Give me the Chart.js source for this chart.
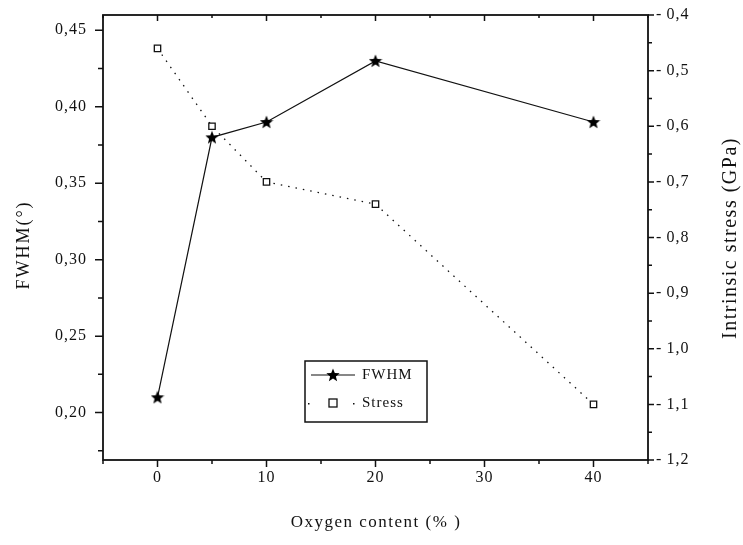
<!DOCTYPE html>
<html>
<head>
<meta charset="utf-8">
<script src="https://cdn.jsdelivr.net/npm/chart.js@4.4.0/dist/chart.umd.min.js"></script>
<style>
  html, body { margin: 0; padding: 0; background: #fff; }
  #wrap { width: 743px; height: 545px; }
</style>
</head>
<body>
<div id="wrap"><canvas id="chart" width="743" height="545"></canvas></div>
<script>
// ------------------------------------------
// Data
// ------------------------------------------
const oxygen = [0, 5, 10, 20, 40];
const fwhm = [0.21, 0.38, 0.39, 0.43, 0.39];
const stress = [-0.46, -0.60, -0.70, -0.74, -1.10];

const xTicks = [0, 10, 20, 30, 40];
const fwhmTicks = [0.20, 0.25, 0.30, 0.35, 0.40, 0.45];
const stressTicks = [-0.4, -0.5, -0.6, -0.7, -0.8, -0.9, -1.0, -1.1, -1.2];

const FONT = "'Liberation Serif', 'DejaVu Serif', serif";
const INK = "#111";

// filled star used as the FWHM marker
function makeStar(size) {
    const c = document.createElement("canvas");
    c.width = size; c.height = size;
    const g = c.getContext("2d");
    const cx = size / 2, cy = size / 2 + 0.5, ro = size / 2, ri = size / 4.6;
    g.beginPath();
    for (let i = 0; i < 10; i++) {
        const r = i % 2 === 0 ? ro : ri;
        const a = -Math.PI / 2 + i * Math.PI / 5;
        g.lineTo(cx + r * Math.cos(a), cy + r * Math.sin(a));
    }
    g.closePath();
    g.fillStyle = "#000";
    g.fill();
    return c;
}
const star = makeStar(14);

const comma = (v, d) => v.toFixed(d).replace(".", ",");

// fixed scale sizes, no extra label padding
function fixWidth(w) {
    return s => { s.width = w; s.paddingTop = 0; s.paddingBottom = 0; };
}

// the original uses a wide bitmap serif: spread the letters a little
const spacing = {
    id: "spacing",
    beforeInit(chart) { chart.ctx.letterSpacing = "1px"; },
    beforeDraw(chart) { chart.ctx.letterSpacing = "1px"; }
};

// ------------------------------------------
// Frame, tick marks, titles, legend
// ------------------------------------------
const decor = {
    id: "decor",
    afterDraw(chart) {
        const ctx = chart.ctx;
        const a = chart.chartArea;
        const sx = chart.scales.x, sy = chart.scales.y, sy2 = chart.scales.y2;
        ctx.save();
        ctx.strokeStyle = INK;
        ctx.lineWidth = 1.8;
        ctx.strokeRect(a.left, a.top, a.right - a.left, a.bottom - a.top);

        ctx.lineWidth = 1.5;
        ctx.beginPath();
        // bottom + top ticks
        for (let v = -5; v <= 45; v += 5) {
            const px = sx.getPixelForValue(v);
            const major = v % 10 === 0;
            ctx.moveTo(px, a.bottom); ctx.lineTo(px, a.bottom + (major ? 7 : 4));
            ctx.moveTo(px, a.top); ctx.lineTo(px, a.top + (major ? 6 : 3));
        }
        // left ticks
        for (let i = 0; i <= 11; i++) {
            const v = 0.175 + i * 0.025;
            const py = sy.getPixelForValue(v);
            const major = i % 2 === 1;
            ctx.moveTo(a.left, py); ctx.lineTo(a.left - (major ? 8 : 5), py);
        }
        // right ticks
        for (let i = 0; i <= 16; i++) {
            const v = -0.4 - i * 0.05;
            const py = sy2.getPixelForValue(v);
            const major = i % 2 === 0;
            ctx.moveTo(a.right, py); ctx.lineTo(a.right + (major ? 6 : 4), py);
        }
        ctx.stroke();

        // axis titles
        ctx.fillStyle = INK;
        ctx.font = "17px " + FONT;
        ctx.letterSpacing = "1.5px";
        ctx.textAlign = "center";
        ctx.textBaseline = "middle";
        ctx.fillText("Oxygen content (% )", 376, 523);
        ctx.font = "18px " + FONT;
        ctx.letterSpacing = "2px";
        ctx.save();
        ctx.translate(24, 245);
        ctx.rotate(-Math.PI / 2);
        ctx.fillText("FWHM(°)", 0, 0);
        ctx.restore();
        ctx.font = "20px " + FONT;
        ctx.letterSpacing = "1.5px";
        ctx.save();
        ctx.translate(731, 238);
        ctx.rotate(-Math.PI / 2);
        ctx.fillText("Intrinsic stress (GPa)", 0, 0);
        ctx.restore();
        ctx.letterSpacing = "1px";

        // legend box
        const lx = 305, ly = 361, lw = 122, lh = 61;
        ctx.fillStyle = "#fff";
        ctx.fillRect(lx, ly, lw, lh);
        ctx.lineWidth = 1.5;
        ctx.strokeRect(lx, ly, lw, lh);

        const r1 = 375, r2 = 403;
        ctx.lineWidth = 1.2;
        ctx.beginPath();
        ctx.moveTo(311, r1); ctx.lineTo(355, r1);
        ctx.stroke();
        ctx.drawImage(star, 333 - 7, r1 - 7);

        ctx.fillStyle = INK;
        ctx.fillRect(308, r2, 1.5, 1.5);
        ctx.fillRect(353, r2, 1.5, 1.5);
        ctx.fillStyle = "#fff";
        ctx.fillRect(329, r2 - 4, 8, 8);
        ctx.lineWidth = 1.3;
        ctx.strokeRect(329, r2 - 4, 8, 8);

        ctx.fillStyle = INK;
        ctx.font = "15px " + FONT;
        ctx.textAlign = "left";
        ctx.fillText("FWHM", 362, r1);
        ctx.fillText("Stress", 362, r2);
        ctx.restore();
    }
};

new Chart(document.getElementById("chart"), {
    type: "line",
    data: {
        datasets: [
            {
                label: "FWHM",
                data: oxygen.map((x, i) => ({ x, y: fwhm[i] })),
                yAxisID: "y",
                borderColor: INK,
                borderWidth: 1.2,
                pointStyle: star,
                pointRadius: 7,
                tension: 0
            },
            {
                label: "Stress",
                data: oxygen.map((x, i) => ({ x, y: stress[i] })),
                yAxisID: "y2",
                borderColor: INK,
                borderWidth: 1.3,
                borderDash: [1.5, 6],
                pointStyle: "rect",
                pointRadius: 4.5,
                pointBorderWidth: 1.3,
                pointBackgroundColor: "#fff",
                pointBorderColor: INK,
                tension: 0
            }
        ]
    },
    options: {
        responsive: false,
        animation: false,
        devicePixelRatio: 1,
        layout: { padding: { top: 15, left: 0, right: 0, bottom: 0 } },
        plugins: { legend: { display: false }, tooltip: { enabled: false } },
        scales: {
            x: {
                type: "linear",
                min: -5,
                max: 45,
                afterBuildTicks: s => { s.ticks = xTicks.map(v => ({ value: v })); },
                afterFit: s => { s.height = 85; s.paddingLeft = 0; s.paddingRight = 0; },
                grid: { display: false, drawTicks: false },
                border: { display: false },
                ticks: {
                    padding: 8,
                    color: INK,
                    font: { family: FONT, size: 16 },
                    maxRotation: 0,
                    callback: v => String(v)
                }
            },
            y: {
                type: "linear",
                position: "left",
                min: 0.169,
                max: 0.46,
                afterBuildTicks: s => { s.ticks = fwhmTicks.map(v => ({ value: v })); },
                afterFit: fixWidth(103),
                grid: { display: false, drawTicks: false },
                border: { display: false },
                ticks: {
                    padding: 16,
                    color: INK,
                    font: { family: FONT, size: 16 },
                    callback: v => comma(v, 2)
                }
            },
            y2: {
                type: "linear",
                position: "right",
                min: -1.2,
                max: -0.4,
                afterBuildTicks: s => { s.ticks = stressTicks.map(v => ({ value: v })); },
                afterFit: fixWidth(95),
                grid: { display: false, drawTicks: false },
                border: { display: false },
                ticks: {
                    padding: 8,
                    color: INK,
                    font: { family: FONT, size: 16 },
                    callback: v => comma(v, 1).replace("-", "-\u2009")
                }
            }
        }
    },
    plugins: [spacing, decor]
});
</script>
</body>
</html>
